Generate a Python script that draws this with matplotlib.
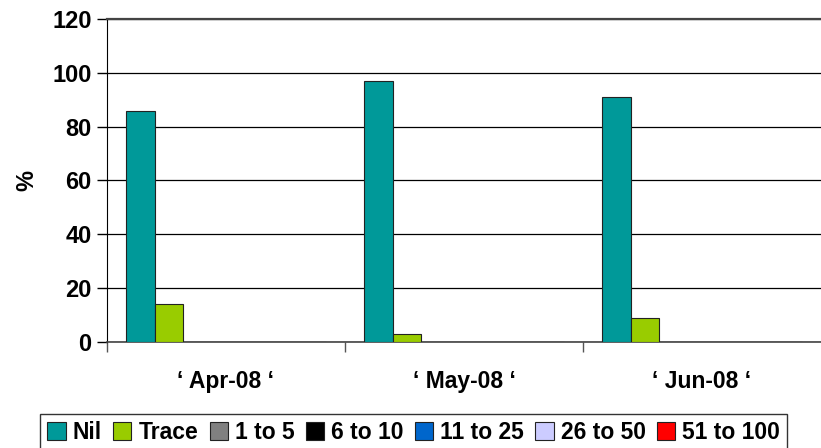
import numpy as np
import matplotlib.pyplot as plt

plt.rcParams['font.family'] = ['Liberation Sans', 'DejaVu Sans']
plt.rcParams['font.weight'] = 'bold'

""" Data """
months = ['\u2018 Apr-08 \u2018', '\u2018 May-08 \u2018', '\u2018 Jun-08 \u2018']
series = ['Nil', 'Trace', '1 to 5', '6 to 10', '11 to 25', '26 to 50', '51 to 100']
nil = [86, 97, 91]
trace = [14, 3, 9]
one_to_five = [0, 0, 0]
six_to_ten = [0, 0, 0]
eleven_to_25 = [0, 0, 0]
twentysix_to_50 = [0, 0, 0]
fiftyone_to_100 = [0, 0, 0]
colors = ['#009999', '#99CC00', '#808080', '#000000', '#0066CC', '#CCCCFF', '#FF0000']

values = [nil, trace, one_to_five, six_to_ten, eleven_to_25, twentysix_to_50, fiftyone_to_100]

""" Plotting """
fig = plt.figure(figsize=(8.21, 4.48), dpi=100)
ax = fig.add_axes([0.1303, 0.2366, 0.8697, 0.721])

x = np.arange(len(months))
w = 0.1195
handles = []
for i, (name, vals) in enumerate(zip(series, values)):
    b = ax.bar(x + (i - 3) * w, vals, w, color=colors[i], edgecolor='#222222',
               linewidth=0.8, label=name, zorder=3)
    handles.append(b)

ax.set_xlim(-0.5, 2.5)
ax.set_ylim(0, 120)
ax.set_yticks(np.arange(0, 121, 20))
ax.tick_params(axis='y', labelsize=17, length=7, width=1, pad=4)
ax.set_xticks(x)
ax.set_xticklabels(months, fontsize=16.5, fontweight='bold')
ax.tick_params(axis='x', which='major', length=0, pad=20)
ax.set_xticks([-0.5, 0.5, 1.5], minor=True)
ax.tick_params(axis='x', which='minor', length=7, width=1, color='#555555')
ax.yaxis.grid(True, color='black', linewidth=0.9, zorder=0)
ax.set_ylabel('%', fontsize=17, fontweight='bold', labelpad=10)

ax.spines['right'].set_visible(False)
ax.spines['top'].set_color('#444444')
ax.spines['top'].set_linewidth(1.6)
ax.spines['left'].set_color('black')
ax.spines['bottom'].set_color('#444444')
ax.spines['bottom'].set_linewidth(1.2)

leg = fig.legend(handles=handles, loc='center', bbox_to_anchor=(0.504, 0.035),
                 ncol=7, fontsize=16.5, frameon=True, fancybox=False,
                 handlelength=0.8, handleheight=0.8, handletextpad=0.3,
                 columnspacing=0.5, borderpad=0.3, borderaxespad=0)
leg.get_frame().set_edgecolor('black')
leg.get_frame().set_linewidth(1)

fig.savefig('out.png', dpi=100)
